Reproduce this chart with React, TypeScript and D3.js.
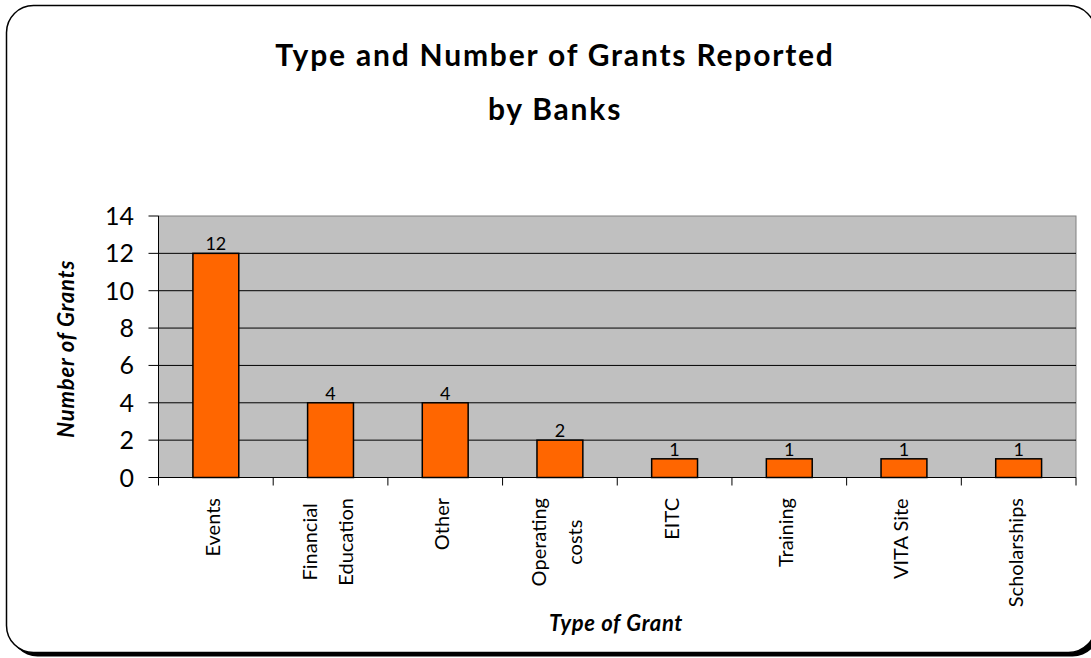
import React from 'react';
import * as d3 from 'd3';

const categories = ['Events', 'Financial Education', 'Other', 'Operating costs', 'EITC', 'Training', 'VITA Site', 'Scholarships'];
const labelLines = [['Events'], ['Financial', 'Education'], ['Other'], ['Operating', 'costs'], ['EITC'], ['Training'], ['VITA Site'], ['Scholarships']];
const grantCounts = [12, 4, 4, 2, 1, 1, 1, 1];
const yTicks = [0, 2, 4, 6, 8, 10, 12, 14];
const titleLines = ['Type and Number of Grants Reported', 'by Banks'];
const xTitle = 'Type of Grant';
const yTitle = 'Number of Grants';

const W = 1091;
const H = 658;
const FONT = 'Lato, "Open Sans", sans-serif';
const LABEL_SIZE = 20;

let ctx: CanvasRenderingContext2D | null = null;
function measure(text: string, font: string): number {
  if (!ctx) ctx = document.createElement('canvas').getContext('2d');
  if (!ctx) return text.length * 10;
  ctx.font = font;
  return ctx.measureText(text).width;
}

export default function App() {
  const plot = { left: 158.5, right: 1076, top: 216, bottom: 477.5 };
  const x = d3.scaleBand<string>().domain(categories).range([plot.left, plot.right]).padding(0);
  const y = d3.scaleLinear().domain([0, 14]).range([plot.bottom, plot.top]);
  const step = x.step();
  const barW = step * 0.4;
  const boundaries = d3.range(categories.length + 1).map((i) => plot.left + i * step);

  return (
    <div style={{ position: 'absolute', left: 0, top: 0 }}>
      <svg width={W} height={H} style={{ display: 'block' }}>
        {/* frame with shadow */}
        <rect x={10.5} y={9.5} width={1089} height={647} rx={27} ry={27} fill="#000" />
        <rect x={6.5} y={5.5} width={1089} height={647} rx={27} ry={27} fill="#fff" stroke="#000" strokeWidth={1.5} />

        {/* title */}
        {titleLines.map((t, i) => (
          <text key={t} x={555} y={66 + i * 54} textAnchor="middle" fontFamily={FONT} fontWeight={700} fontSize={30} letterSpacing={1.8} fill="#000">
            {t}
          </text>
        ))}

        {/* plot area */}
        <rect x={plot.left} y={plot.top} width={plot.right - plot.left} height={plot.bottom - plot.top} fill="#C0C0C0" stroke="#808080" strokeWidth={1} />
        {yTicks.filter((t) => t > 0 && t < 14).map((t) => (
          <line key={'g' + t} x1={plot.left} x2={plot.right} y1={y(t)} y2={y(t)} stroke="#000" strokeWidth={1} />
        ))}

        {/* bars */}
        {categories.map((c, i) => {
          const cx = (x(c) as number) + step / 2;
          return (
            <g key={c}>
              <rect x={cx - barW / 2} y={y(grantCounts[i])} width={barW} height={y(0) - y(grantCounts[i])} fill="#FF6600" stroke="#000" strokeWidth={1.5} />
              <text x={cx} y={y(grantCounts[i]) - 3} textAnchor="middle" fontFamily={FONT} fontSize={18} fill="#000">
                {grantCounts[i]}
              </text>
            </g>
          );
        })}

        {/* y axis */}
        <line x1={plot.left} x2={plot.left} y1={plot.top} y2={plot.bottom} stroke="#000" strokeWidth={1} />
        {yTicks.map((t) => (
          <g key={'y' + t}>
            <line x1={plot.left - 10} x2={plot.left} y1={y(t)} y2={y(t)} stroke="#000" strokeWidth={1} />
            <text x={134} y={y(t)} dy="0.36em" textAnchor="end" fontFamily={FONT} fontSize={25} fill="#000">
              {t}
            </text>
          </g>
        ))}

        {/* x axis */}
        <line x1={plot.left} x2={plot.right} y1={plot.bottom} y2={plot.bottom} stroke="#000" strokeWidth={1} />
        {boundaries.map((bx, i) => (
          <line key={'xt' + i} x1={bx} x2={bx} y1={plot.bottom} y2={plot.bottom + 8} stroke="#000" strokeWidth={1} />
        ))}
        {categories.map((c, i) => {
          const cx = (x(c) as number) + step / 2 - 4;
          const lines = labelLines[i];
          const font = `${LABEL_SIZE}px ${FONT}`;
          const blockLen = Math.max(...lines.map((l) => measure(l, font)));
          const top = 498;
          const mid = top + blockLen / 2;
          const gap = 36;
          return lines.map((l, j) => {
            const lx = cx + (j - (lines.length - 1) / 2) * gap;
            return (
              <text key={c + j} transform={`translate(${lx},${mid}) rotate(-90)`} textAnchor="middle" dominantBaseline="central" fontFamily={FONT} fontSize={LABEL_SIZE} fill="#000">
                {l}
              </text>
            );
          });
        })}

        {/* axis titles */}
        <text x={616} y={631} textAnchor="middle" fontFamily={FONT} fontWeight={700} fontStyle="italic" fontSize={22} letterSpacing={0.7} fill="#000">
          {xTitle}
        </text>
        <text transform={`translate(74,${(plot.top + plot.bottom) / 2 + 2}) rotate(-90)`} textAnchor="middle" fontFamily={FONT} fontWeight={700} fontStyle="italic" fontSize={22} letterSpacing={0.8} fill="#000">
          {yTitle}
        </text>
      </svg>
    </div>
  );
}
